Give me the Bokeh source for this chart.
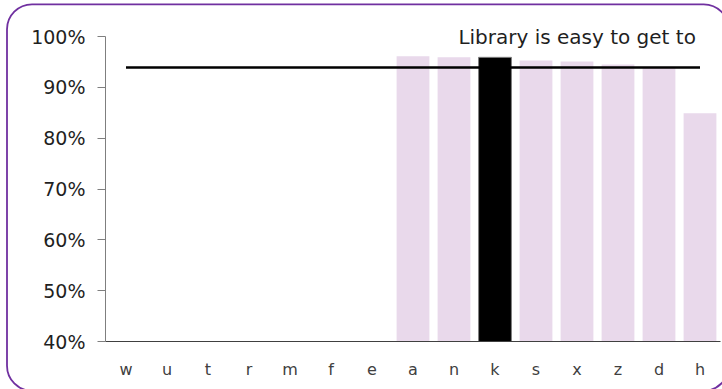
from bokeh.plotting import figure
from bokeh.models import FactorRange, Range1d, Label, FixedTicker, PrintfTickFormatter, ColumnDataSource
from bokeh.embed import file_html
from bokeh.resources import INLINE

categories = ["w", "u", "t", "r", "m", "f", "e", "a", "n", "k", "s", "x", "z", "d", "h"]
bar_categories = ["a", "n", "k", "s", "x", "z", "d", "h"]
bar_values = [96.1, 95.9, 95.9, 95.3, 95.1, 94.5, 93.8, 84.9]
highlight = "k"
benchmark = 93.9
y_ticks = [40, 50, 60, 70, 80, 90, 100]
y_min, y_max = 40, 100
title_text = "Library is easy to get to"

FONT = "DejaVu Sans"
BAR_COLOR = "#E9D9EB"
# rounded frame drawn in a background image larger than the page; the part past the window is cut off
FRAME_SVG = ("url(\"data:image/svg+xml;utf8,<svg xmlns='http://www.w3.org/2000/svg' width='760' height='420' "
             "viewBox='0 0 760 420'><rect x='7' y='4.3' width='721.7' height='386.5' rx='25' ry='25' "
             "fill='none' stroke='%237030A0' stroke-width='1.8'/></svg>\")")

PX_PER_UNIT = 305 / (y_max - y_min)
p = figure(
    x_range=FactorRange(factors=categories, range_padding=0),
    y_range=Range1d(y_min, y_max + 16 / PX_PER_UNIT),
    width=722, height=389,
    output_backend="svg", toolbar_location=None,
    min_border_left=105, min_border_right=2, min_border_top=20, min_border_bottom=48,
)
p.styles = {"background-color": "white", "background-image": FRAME_SVG,
            "background-repeat": "no-repeat", "background-size": "760px 420px",
            "background-position": "0px 0px", "overflow": "hidden"}
p.outline_line_color = None
p.xgrid.grid_line_color = None
p.ygrid.grid_line_color = None
p.background_fill_color = None
p.border_fill_color = None

colors = ["black" if c == highlight else BAR_COLOR for c in bar_categories]
lines = ["#7f7f7f" if c == highlight else None for c in bar_categories]
src = ColumnDataSource(dict(x=bar_categories, top=bar_values, color=colors, lc=lines))
p.vbar(x="x", top="top", bottom=y_min, width=0.8, source=src, fill_color="color", line_color="lc", line_width=1)

p.line(x=categories, y=[benchmark] * len(categories), line_color="black", line_width=2.5)

p.yaxis.ticker = FixedTicker(ticks=y_ticks)
p.yaxis.bounds = (y_min, y_max)
p.yaxis.formatter = PrintfTickFormatter(format="%d%%")
p.yaxis.major_label_text_font = FONT
p.yaxis.major_label_text_font_size = "19px"
p.yaxis.major_label_text_color = "#1f1f1f"
p.yaxis.axis_line_color = "#7f7f7f"
p.yaxis.major_tick_line_color = "#7f7f7f"
p.yaxis.major_tick_out = 8
p.yaxis.major_tick_in = 0
p.yaxis.minor_tick_line_color = None
p.yaxis.major_label_standoff = 12

p.xaxis.major_label_text_font = FONT
p.xaxis.major_label_text_font_size = "16px"
p.xaxis.major_label_text_color = "#404040"
p.xaxis.axis_line_color = "#404040"
p.xaxis.major_tick_line_color = None
p.xaxis.major_tick_out = 0
p.xaxis.major_label_standoff = 18

p.add_layout(Label(x=14.4, y=100.0, text=title_text, text_align="right", text_baseline="alphabetic",
                   text_font=FONT, text_font_size="20px", text_color="#1f1f1f"))

open("out.html", "w").write(file_html(p, INLINE))
